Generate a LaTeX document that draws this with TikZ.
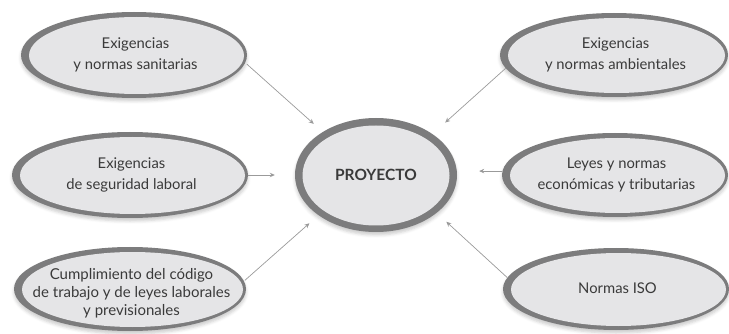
\documentclass[tikz,border=0pt]{standalone}
\usepackage{fontspec}
\setmainfont{Lato}
\usetikzlibrary{shapes.geometric,arrows.meta,shadows.blur}
\definecolor{ring}{HTML}{7C7C7D}
\definecolor{innerfill}{HTML}{E5E5E7}
\definecolor{txt}{HTML}{3A3A3A}
\definecolor{arr}{HTML}{9A9A9A}
\newcommand\bubtext[2][-3.7pt]{\smash{\makebox[0pt]{\raisebox{#1}{\begin{tabular}{@{}c@{}}#2\end{tabular}}}}}
\begin{document}
\begin{tikzpicture}[x=1pt,y=-1pt,
  bubble/.style 2 args={ellipse, inner sep=0pt, minimum width=2*#1pt, minimum height=2*#2pt,
    fill=ring, text=txt, font=\fontsize{14.8}{20.5}\selectfont,
    blur shadow={shadow xshift=0pt, shadow yshift=-3pt, shadow blur radius=3pt, shadow opacity=20},
    path picture={\fill[innerfill] ([xshift=2.5pt,yshift=-0.5pt]path picture bounding box.center) ellipse ({#1pt-5.5pt} and {#2pt-4.5pt});}},
  core/.style={ellipse, inner sep=0pt, minimum width=162pt, minimum height=114pt,
    fill=ring, text=txt, font=\fontsize{15.5}{18}\selectfont\bfseries,
    blur shadow={shadow xshift=0pt, shadow yshift=-3pt, shadow blur radius=3pt, shadow opacity=20},
    path picture={\fill[innerfill] ([yshift=-0.5pt]path picture bounding box.center) ellipse (73.5pt and 50pt);}},
  arrowline/.style={draw=arr, line width=0.7pt, -{Stealth[length=5pt,width=4.5pt]}}]
\useasboundingbox (0,0) rectangle (729,334);

\node[bubble={113}{43}] (tl) at (134,55) {\hspace{3pt}\bubtext{Exigencias\\y normas sanitarias}};
\node[bubble={118}{43}] (ml) at (130,175) {\hspace{3pt}\bubtext{Exigencias\\de seguridad laboral}};
\node[bubble={116}{42}, font=\fontsize{15}{17.8}\selectfont] (bl) at (130,289) {\hspace{3pt}\bubtext[-8.5pt]{Cumplimiento del código\\de trabajo y de leyes laborales\\y previsionales}};
\node[bubble={114}{42}] (tr) at (614,55) {\hspace{3pt}\bubtext{Exigencias\\y normas ambientales}};
\node[bubble={113}{42}] (mr) at (615,175) {\hspace{3pt}\bubtext{Leyes y normas\\económicas y tributarias}};
\node[bubble={113}{41}] (br) at (616,289) {\hspace{3pt}\bubtext{Normas ISO}};
\node[core] (proj) at (376,175) {PROYECTO};

\draw[arrowline, shorten <=2pt, shorten >=12pt] (tl.-4) -- (proj.141);
\draw[arrowline, shorten >=20pt] (ml.east) -- (proj.west);
\draw[arrowline, shorten <=1pt, shorten >=12pt] (bl.4) -- (proj.215);
\draw[arrowline, shorten >=17pt] (tr.187) -- (proj.36);
\draw[arrowline, shorten >=22pt] (mr.178) -- (mr.178 -| proj.east);
\draw[arrowline, shorten >=13pt] (br.174) -- (proj.-32);
\end{tikzpicture}
\end{document}
